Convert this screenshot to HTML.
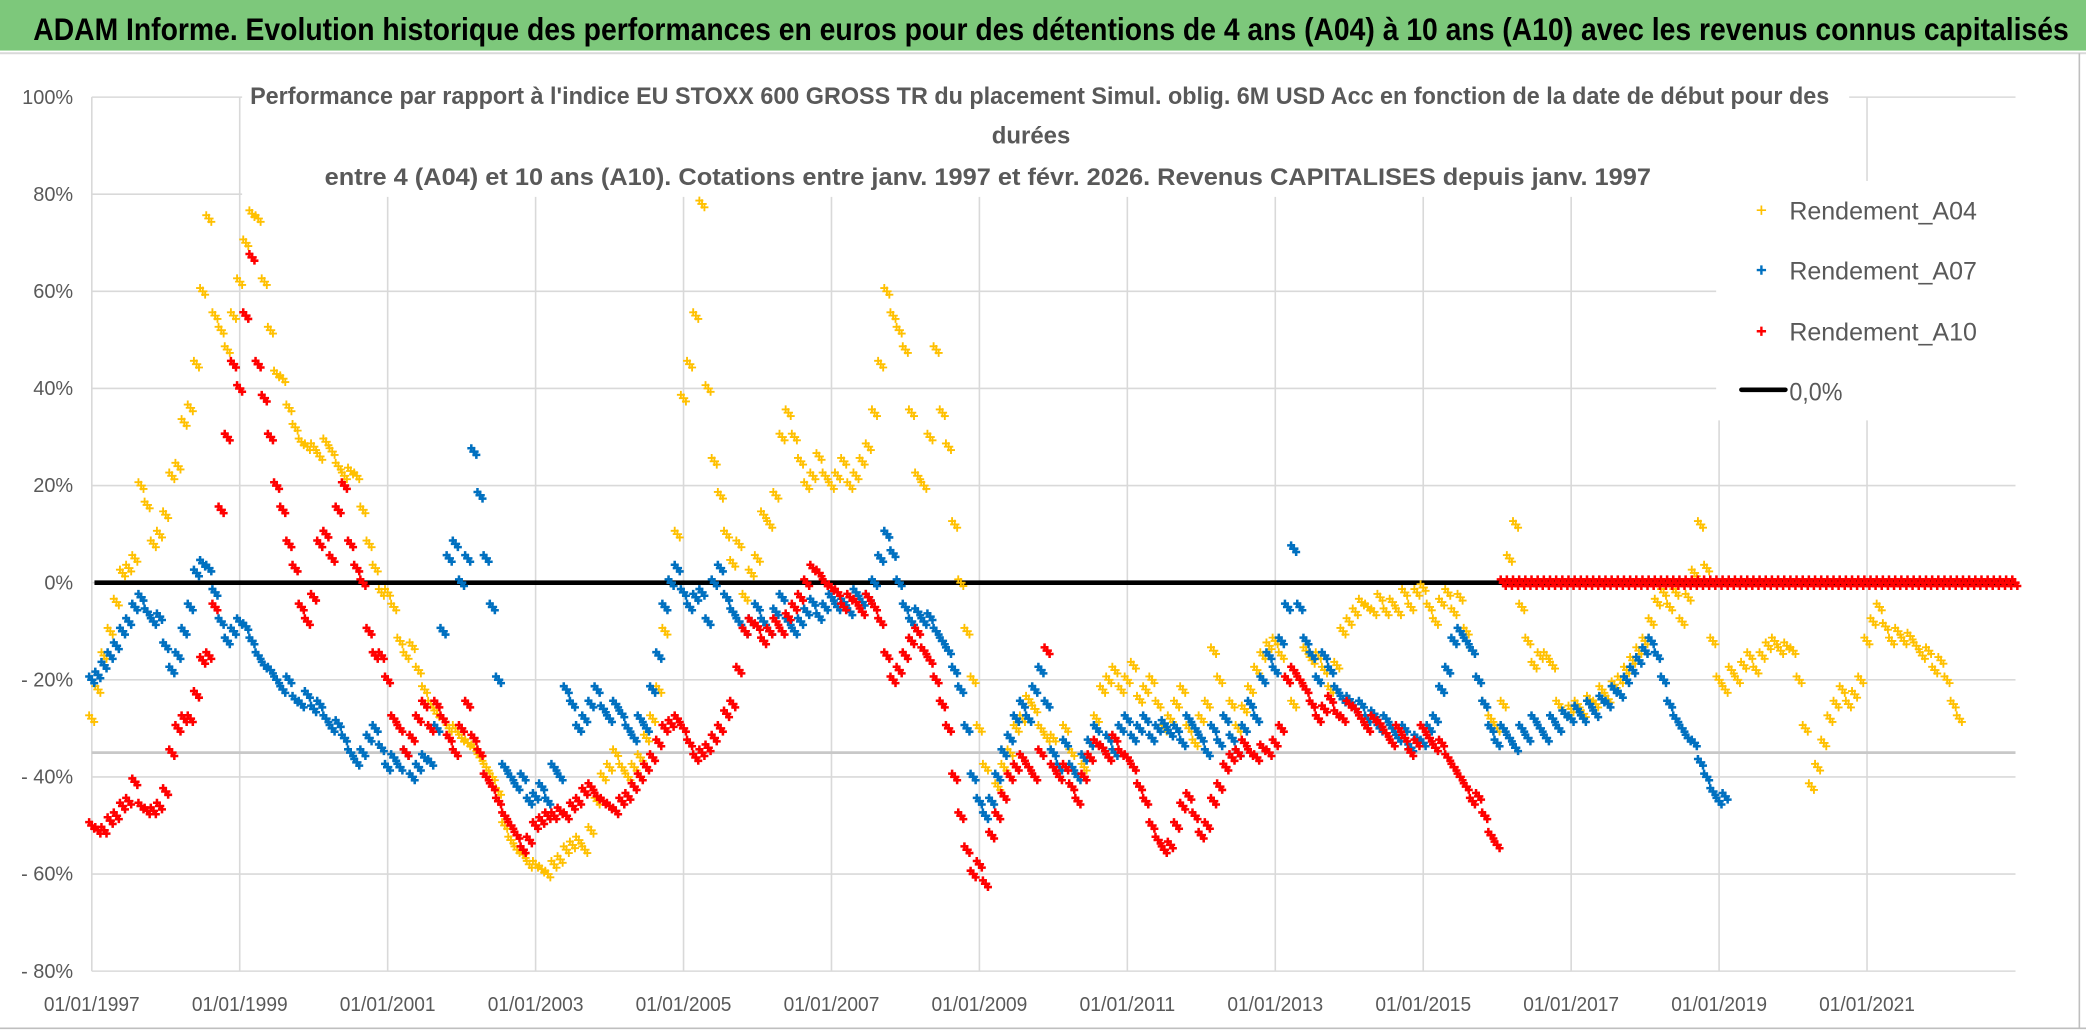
<!DOCTYPE html>
<html><head><meta charset="utf-8"><style>
html,body{margin:0;padding:0;background:#fff;}
svg{display:block;}
text{font-family:"Liberation Sans Narrow","Liberation Sans",sans-serif;}
</style></head><body>
<svg id="chart" width="2086" height="1031" viewBox="0 0 1568 775" preserveAspectRatio="none" xmlns="http://www.w3.org/2000/svg">
<rect x="0" y="0" width="1568" height="775" fill="#fff"/>
<rect x="0" y="0" width="1568" height="38" fill="#7dc87b"/>
<line x1="0" y1="40" x2="1568" y2="40" stroke="#d9d9d9" stroke-width="1.5"/>
<text x="25" y="30" font-size="24" font-weight="bold" fill="#000" textLength="1530" lengthAdjust="spacingAndGlyphs">ADAM Informe. Evolution historique des performances en euros pour des détentions de 4 ans (A04) à 10 ans (A10) avec les revenus connus capitalisés</text>
<line x1="1563" y1="40" x2="1563" y2="773" stroke="#bfbfbf" stroke-width="1.2"/>
<line x1="0" y1="773" x2="1568" y2="773" stroke="#bfbfbf" stroke-width="1.2"/>
<g id="grid"></g>
<g id="yaxis"></g>
<g id="xaxis"></g>
<rect x="182" y="52" width="1208" height="96" fill="#fff"/>
<rect x="1290" y="136" width="226" height="180" fill="#fff"/>
<g fill="#595959" font-weight="bold" font-size="18">
<text x="188" y="78" textLength="1187" lengthAdjust="spacingAndGlyphs">Performance  par rapport à l'indice EU STOXX 600 GROSS TR  du placement Simul. oblig. 6M USD Acc en fonction de la date de début pour des</text>
<text x="775" y="108" text-anchor="middle">durées</text>
<text x="244" y="139" textLength="997" lengthAdjust="spacingAndGlyphs">entre 4 (A04) et 10 ans (A10). Cotations entre janv. 1997 et févr. 2026. Revenus CAPITALISES depuis janv. 1997</text>
</g>
<g id="marks"></g>
<g font-size="19" fill="#595959">
<g><path d="M1320.5 158h7M1324 154.5v7" stroke="#ffc000" stroke-width="1.3"/><text x="1345" y="165" textLength="141" lengthAdjust="spacingAndGlyphs">Rendement_A04</text></g>
<g><path d="M1320.5 203h7M1324 199.5v7" stroke="#0070c0" stroke-width="1.8"/><text x="1345" y="210" textLength="141" lengthAdjust="spacingAndGlyphs">Rendement_A07</text></g>
<g><path d="M1320.5 249h7M1324 245.5v7" stroke="#ff0000" stroke-width="1.8"/><text x="1345" y="256" textLength="141" lengthAdjust="spacingAndGlyphs">Rendement_A10</text></g>
<g><line x1="1309" y1="293" x2="1342" y2="293" stroke="#000" stroke-width="3.5" stroke-linecap="round"/><text x="1345" y="301" textLength="40" lengthAdjust="spacingAndGlyphs">0,0%</text></g>
</g>
</svg>
<script>
const startYear = 1997;
const yTickValues = [100,80,60,40,20,0,-20,-40,-60,-80];
const yTickLabels = ["100%","80%","60%","40%","20%","0%","- 20%","- 40%","- 60%","- 80%"];
const xTickYears = [1997,1999,2001,2003,2005,2007,2009,2011,2013,2015,2017,2019,2021];
const xTickLabels = ["01/01/1997","01/01/1999","01/01/2001","01/01/2003","01/01/2005","01/01/2007","01/01/2009","01/01/2011","01/01/2013","01/01/2015","01/01/2017","01/01/2019","01/01/2021"];
const refLineValue = -35;
// monthly values (%), starting Jan 1997
const a04 = [
-28,-22,-15,-10,-4,2,3,5,20,16,8,10,
14,22,24,33,36,45,60,75,55,52,48,55,
62,70,76,75,62,52,43,42,36,32,29,28,
28,26,29,27,24,22,23,22,15,8,3,-2,
-2,-5,-12,-15,-13,-18,-22,-25,-27,-28,-30,-30,
-32,-33,-34,-36,-38,-40,-43,-50,-53,-55,-56,-58,
-58,-59,-60,-58,-57,-55,-54,-53,-55,-51,-45,-40,
-38,-35,-38,-40,-38,-36,-32,-28,-22,-10,0,10,
38,45,55,78,40,25,18,10,4,8,-3,2,
5,14,12,18,30,35,30,25,20,22,26,22,
20,22,25,20,22,25,28,35,45,60,55,52,
48,35,22,20,30,48,35,28,12,0,-10,-20,
-30,-38,-45,-42,-38,-35,-30,-28,-24,-26,-30,-32,
-32,-38,-30,-35,-40,-38,-33,-28,-22,-20,-18,-22,
-20,-17,-24,-22,-20,-25,-30,-28,-25,-22,-30,-33,
-28,-25,-14,-20,-28,-25,-30,-26,-22,-18,-15,-13,
-12,-15,-20,-25,-20,-14,-16,-15,-18,-22,-17,-10,
-8,-6,-4,-5,-6,-3,-6,-4,-6,-2,-5,-2,
-1,-5,-8,-4,-2,-6,-3,-10,-14,-20,-25,-28,
-30,-25,5,12,-5,-12,-17,-15,-15,-17,-25,-27,
-26,-25,-27,-24,-25,-22,-24,-21,-20,-18,-16,-14,
-12,-8,-4,-2,-5,-2,-8,-3,2,12,3,-12,
-20,-22,-18,-20,-17,-15,-18,-15,-13,-12,-14,-13,
-14,-20,-30,-42,-38,-33,-28,-25,-22,-25,-23,-20,
-12,-8,-5,-9,-12,-10,-12,-11,-13,-15,-14,-18,
-16,-20,-25,-28];
const a07 = [
-20,-19,-17,-15,-13,-10,-8,-5,-3,-6,-8,-7,
-13,-18,-15,-10,-5,2,4,3,-2,-8,-12,-10,
-8,-9,-12,-15,-17,-18,-20,-22,-20,-24,-25,-23,
-26,-25,-28,-30,-29,-32,-35,-37,-35,-32,-30,-34,
-38,-36,-38,-35,-40,-38,-36,-37,-30,-10,5,8,
0,5,27,18,5,-5,-20,-38,-40,-42,-40,-45,
-44,-42,-45,-38,-40,-22,-25,-30,-28,-25,-22,-26,
-28,-25,-27,-30,-32,-28,-30,-22,-15,-5,0,3,
-2,-5,-3,-2,-8,0,3,-3,-6,-8,-10,-8,
-5,-8,-10,-6,-3,-8,-10,-8,-6,-4,-7,-5,
-3,-5,-4,-6,-2,-4,-3,0,5,10,6,0,
-5,-8,-6,-8,-7,-10,-12,-14,-18,-22,-30,-40,
-45,-48,-45,-40,-35,-32,-28,-25,-28,-22,-18,-25,
-35,-38,-33,-38,-40,-36,-33,-30,-34,-32,-35,-30,
-28,-32,-30,-28,-32,-30,-29,-31,-30,-33,-28,-30,
-32,-35,-30,-33,-28,-32,-35,-30,-25,-28,-20,-15,
-18,-12,-5,7,-5,-12,-15,-20,-15,-18,-22,-24,
-24,-26,-25,-28,-27,-30,-28,-30,-32,-30,-34,-32,
-33,-30,-28,-22,-18,-12,-10,-12,-14,-20,-25,-30,
-33,-30,-32,-34,-30,-32,-28,-30,-32,-28,-30,-27,
-28,-26,-28,-25,-27,-24,-25,-22,-23,-20,-18,-16,
-14,-12,-15,-20,-25,-28,-30,-32,-33,-37,-40,-43,
-45,-44];
const a10 = [
-50,-51,-51,-49,-48,-46,-45,-41,-46,-47,-47,-46,
-43,-35,-30,-28,-28,-23,-16,-15,-5,15,30,45,
40,55,67,45,38,30,20,15,8,3,-5,-8,
-3,8,10,5,15,20,8,3,0,-10,-15,-15,
-20,-28,-30,-35,-32,-28,-25,-30,-25,-28,-32,-35,
-30,-25,-32,-35,-40,-42,-45,-48,-50,-52,-55,-53,
-50,-49,-48,-48,-47,-48,-46,-45,-43,-42,-44,-45,
-46,-47,-45,-44,-42,-40,-38,-36,-33,-30,-29,-28,
-30,-33,-36,-35,-34,-32,-30,-27,-25,-18,-10,-8,
-9,-12,-10,-8,-10,-7,-5,-3,0,3,2,0,
-1,-2,-5,-3,-4,-6,-3,-5,-8,-15,-20,-18,
-15,-12,-10,-14,-16,-20,-25,-30,-40,-48,-55,-60,
-58,-62,-52,-48,-44,-40,-38,-36,-38,-40,-35,-14,
-38,-40,-38,-42,-45,-40,-36,-33,-34,-36,-32,-35,
-36,-38,-42,-45,-50,-53,-55,-54,-50,-46,-44,-48,
-52,-50,-45,-42,-38,-36,-35,-33,-35,-36,-34,-35,
-33,-30,-20,-18,-20,-22,-25,-28,-26,-24,-27,-28,
-25,-26,-28,-30,-28,-29,-31,-33,-30,-32,-35,-33,
-30,-32,-34,-33,-36,-38,-40,-42,-45,-44,-48,-52,
-54,0,0,0,0,0,0,0,0,0,0,0,
0,0,0,0,0,0,0,0,0,0,0,0,
0,0,0,0,0,0,0,0,0,0,0,0,
0,0,0,0,0,0,0,0,0,0,0,0,
0,0,0,0,0,0,0,0,0,0,0,0,
0,0,0,0,0,0,0,0,0,0,0,0,
0,0,0,0,0,0,0,0,0,0,0,0,
0];

const NS = "http://www.w3.org/2000/svg";
const X0 = 69, PX_YEAR = 55.6, Y0 = 438, PX_PCT = 3.65, XEND = 1515;
function xScale(t){ return X0 + (t - 1997) * PX_YEAR; }
function yScale(v){ return Y0 - v * PX_PCT; }
function mk(tag, attrs, parent){
  const e = document.createElementNS(NS, tag);
  for (const k in attrs) e.setAttribute(k, attrs[k]);
  parent.appendChild(e);
  return e;
}
const grid = document.getElementById('grid');
const yaxis = document.getElementById('yaxis');
const xaxis = document.getElementById('xaxis');
const marks = document.getElementById('marks');

yTickValues.forEach((v, i) => {
  const y = yScale(v);
  const gl = mk('line', {x1: X0, y1: y, x2: XEND, y2: y, stroke: '#d9d9d9', 'stroke-width': 1.2}, grid);
  
  
  const t = mk('text', {x: 55, y: y + 5, 'text-anchor': 'end', 'font-size': 15, fill: '#595959'}, yaxis);
  t.textContent = yTickLabels[i];
  
  
});
xTickYears.forEach((yr, i) => {
  const x = xScale(yr);
  const gl = mk('line', {x1: x, y1: yScale(100), x2: x, y2: yScale(-80), stroke: '#d9d9d9', 'stroke-width': 1.2}, grid);
  
  
  const t = mk('text', {x: x, y: 760, 'text-anchor': 'middle', 'font-size': 15, fill: '#595959', textLength: 72, lengthAdjust: 'spacingAndGlyphs'}, xaxis);
  t.textContent = xTickLabels[i];
  
  
});
const rl = mk('line', {x1: X0, y1: yScale(refLineValue), x2: XEND, y2: yScale(refLineValue), stroke: '#c8c8c8', 'stroke-width': 2}, grid);



const zl = mk('line', {x1: X0 + 2, y1: yScale(0), x2: XEND, y2: yScale(0), stroke: '#000', 'stroke-width': 3.5}, marks);



function drawSeries(vals, color, name, sw){
  const g = mk('g', {stroke: color, 'stroke-width': sw, fill: 'none'}, marks);
  
  
  vals.forEach((v, i) => {
    const x = xScale(startYear + i / 12), y = yScale(v);
    const p = mk('path', {d: 'M' + (x - 3.5) + ' ' + y + 'h7M' + x + ' ' + (y - 3.5) + 'v7'}, g);
    
    
    const p2 = mk('path', {d: 'M' + (x - 1.2) + ' ' + (y + 2.5) + 'h6M' + (x + 1.8) + ' ' + (y - 0.5) + 'v6' +
      'M' + (x - 5) + ' ' + (y - 2.5) + 'h6M' + (x - 2) + ' ' + (y - 5.5) + 'v6'}, g);
    
    
  });
}
drawSeries(a04, '#ffc000', 'a04', 1.4);
drawSeries(a07, '#0070c0', 'a07', 1.9);
drawSeries(a10, '#ff0000', 'a10', 1.9);
</script>
</body></html>
